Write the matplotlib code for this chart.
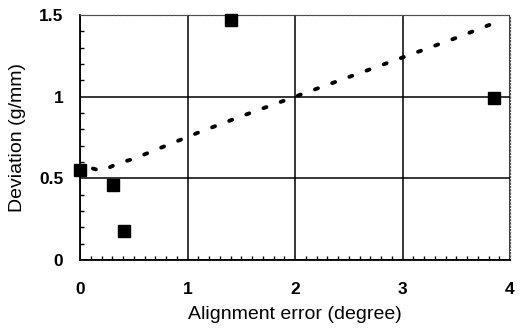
import numpy as np
import matplotlib.pyplot as plt
from matplotlib.ticker import MultipleLocator

plt.rcParams['font.family'] = ['Liberation Sans', 'DejaVu Sans']

# measured points
align_err = [0.0, 0.31, 0.41, 1.40, 3.85]
deviation = [0.55, 0.46, 0.18, 1.47, 0.99]

# trend line
trend_x = [0.12, 0.2, 0.35, 0.5, 0.8, 1.1, 1.5, 2.0, 2.5, 3.0, 3.5, 3.85]
trend_y = [0.56, 0.545, 0.59, 0.62, 0.70, 0.78, 0.88, 1.00, 1.12, 1.24, 1.36, 1.45]

fig = plt.figure(figsize=(5.21, 3.31), dpi=100)
ax = fig.add_axes([80 / 521, 71 / 331, 430 / 521, 245 / 331])

ax.plot(trend_x, trend_y, color='black', linewidth=2.8,
        linestyle=(0, (0.8, 3.9)), dash_capstyle='round', zorder=3)
ax.plot(align_err, deviation, linestyle='none', marker='s', markersize=8,
        color='black', clip_on=False, zorder=4)

ax.set_xlim(0, 4)
ax.set_ylim(0, 1.5)
ax.xaxis.set_major_locator(MultipleLocator(1))
ax.xaxis.set_minor_locator(MultipleLocator(0.1))
ax.yaxis.set_minor_locator(MultipleLocator(0.1))
ax.set_yticks([0, 0.5, 1, 1.5])
ax.set_yticklabels(['0', '0.5', '1', '1.5'])

ax.grid(True, which='major', color='black', linewidth=1.1)
ax.tick_params(which='major', length=0, labelsize=12.5)
ax.tick_params(axis='x', which='major', pad=16)
ax.tick_params(axis='y', which='major', pad=12)
ax.tick_params(which='minor', direction='in', length=3, width=1, color='black')
ax.tick_params(which='minor', top=False, right=False)
for lbl in ax.get_xticklabels() + ax.get_yticklabels():
    lbl.set_fontweight('bold')

for side in ['left', 'bottom']:
    ax.spines[side].set_linewidth(1.3)
for side in ['top', 'right']:
    ax.spines[side].set_linestyle(':')
    ax.spines[side].set_color('#555555')
    ax.spines[side].set_linewidth(0.9)

ax.set_xlabel('Alignment error (degree)', fontsize=14, labelpad=6)
ax.set_ylabel('Deviation (g/mm)', fontsize=14, labelpad=9)

fig.savefig('out.png', dpi=100)
